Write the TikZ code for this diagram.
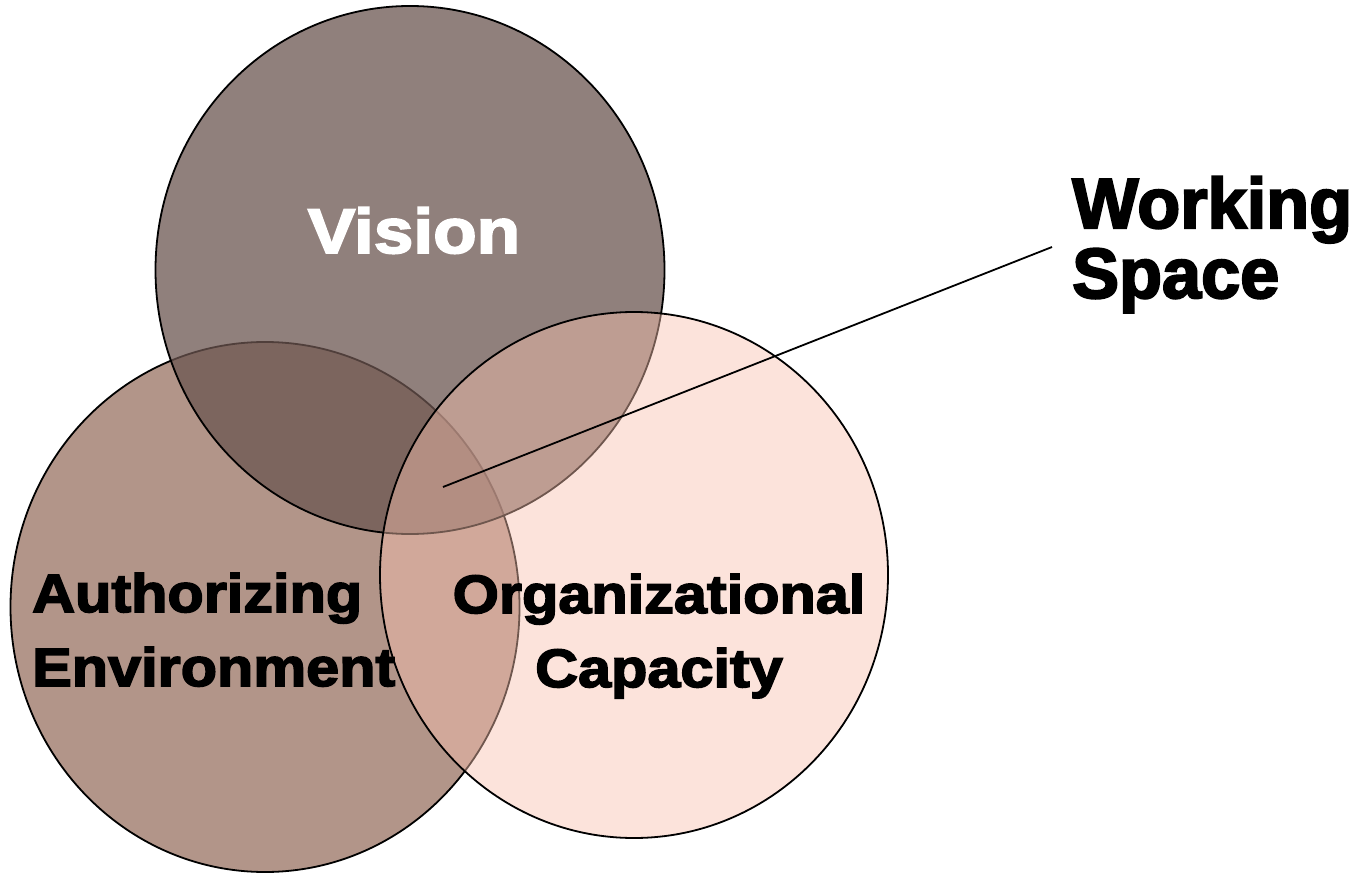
\documentclass[tikz,border=0pt]{standalone}
\usepackage{fontspec}
\usetikzlibrary{shapes.geometric}
\setmainfont{Liberation Sans}
\newfontfamily\fvis{Liberation Sans}[BoldFeatures={FakeBold=3,FakeStretch=1.13}]
\newfontfamily\fmid{Liberation Sans}[BoldFeatures={FakeBold=3,FakeStretch=1.1}]
\newfontfamily\fbig{Liberation Sans}[BoldFeatures={FakeBold=3,FakeStretch=0.99}]
\begin{document}
\begin{tikzpicture}[x=1pt,y=-1pt,
  circ/.style={draw=black,line width=1.8pt,ellipse,inner sep=0pt},
  lbl/.style={align=center,inner sep=0pt},
  vfont/.style={font=\fvis\fontsize{63}{63}\bfseries\selectfont},
  mfont/.style={font=\fmid\fontsize{54}{74}\bfseries\selectfont},
  bfont/.style={font=\fbig\fontsize{71}{70}\bfseries\selectfont}]
\useasboundingbox (0,0) rectangle (1359,874);
\definecolor{authc}{HTML}{B29589}
\definecolor{visc}{HTML}{6B5550}
\definecolor{orgc}{HTML}{F8C1AF}
% circles
\node[circ,fill=authc,minimum width=509pt,minimum height=530pt] (auth) at (265,607) {};
\node[circ,fill=visc,fill opacity=0.75,minimum width=509pt,minimum height=528pt] (vis) at (410,270) {};
\node[circ,fill=orgc,fill opacity=0.45,minimum width=508pt,minimum height=526pt] (org) at (634,575) {};
% labels
\node[lbl,vfont,text=white,anchor=base] (vt) at (414,253) {Vision};
\node[lbl,mfont,anchor=base west,align=left] (at) at (32,686) {Authorizing\\Environment};
\node[lbl,mfont,anchor=base] (ot) at (659,687) {Organizational\\Capacity};
\node[lbl,bfont,anchor=base west,align=left] (wt) at (1072,298) {Working\\Space};
% leader
\coordinate (ws) at (443,487);
\draw[line width=1.8pt] (ws) -- (1052,247);
\end{tikzpicture}
\end{document}
